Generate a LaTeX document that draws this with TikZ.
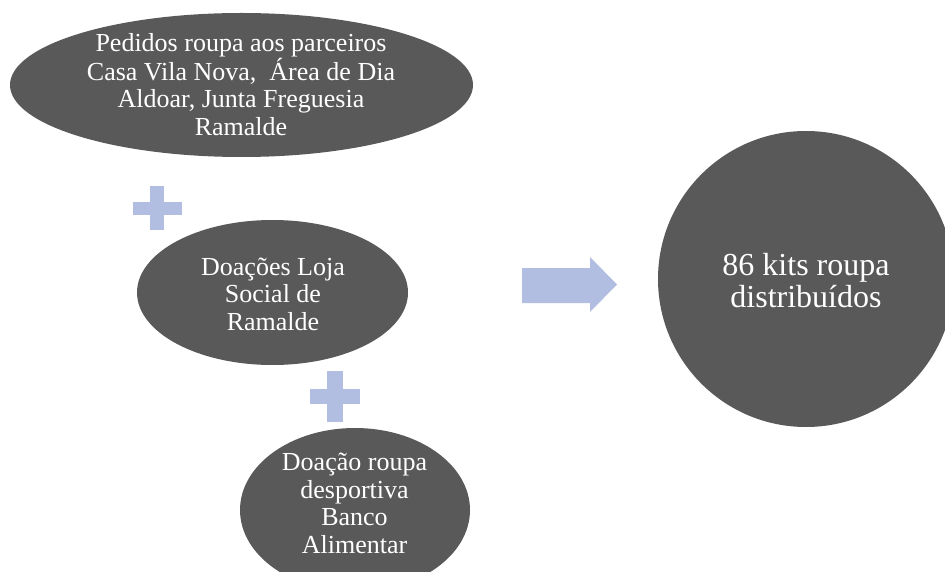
\documentclass[tikz,border=0pt]{standalone}
\usepackage{fontspec}
\setmainfont{Liberation Serif}
\usetikzlibrary{shapes.geometric}
\definecolor{blobgray}{RGB}{89,89,89}
\definecolor{accent}{RGB}{177,189,225}
\begin{document}
\begin{tikzpicture}[x=1pt,y=-1pt,
  blob/.style={ellipse, fill=blobgray, draw=none, inner sep=0pt},
  txt/.style={text=white, align=center, inner sep=0pt, font=\fontsize{26}{27.5}\selectfont},
  bigtxt/.style={text=white, align=center, inner sep=0pt, font=\fontsize{32}{32}\selectfont},
  accentfill/.style={fill=accent, draw=none}]
\useasboundingbox (0,0) rectangle (945,572);
% ellipse 1
\node[blob, minimum width=463pt, minimum height=144pt] (e1) at (241.5,85) {};
\node[txt] (t1) at (241,84.5) {Pedidos roupa aos parceiros\\Casa Vila Nova,\ \ Área de Dia\\Aldoar, Junta Freguesia\\Ramalde};
% plus 1
\fill[accentfill] (132.7,201.7) rectangle (181.7,215);
\fill[accentfill] (150,186) rectangle (164,230);
% ellipse 2
\node[blob, minimum width=271pt, minimum height=145pt] (e2) at (272.5,292.5) {};
\node[txt] (t2) at (273,294) {Doações Loja\\Social de\\Ramalde};
% plus 2
\fill[accentfill] (310,388.5) rectangle (360,403.5);
\fill[accentfill] (326.7,371) rectangle (343.3,422);
% ellipse 3
\node[blob, minimum width=230pt, minimum height=164pt] (e3) at (355,510) {};
\node[txt] (t3) at (354.5,503.5) {Doação roupa\\desportiva\\Banco\\Alimentar};
% arrow
\fill[accentfill] (522,268) -- (590,268) -- (590,257) -- (617,284.5) -- (590,312) -- (590,303) -- (522,303) -- cycle;
% circle
\node[circle, fill=blobgray, draw=none, inner sep=0pt, minimum size=296pt] (c) at (806,279) {};
\node[bigtxt] (tc) at (806,281) {86 kits roupa\\distribuídos};
\end{tikzpicture}
\end{document}
